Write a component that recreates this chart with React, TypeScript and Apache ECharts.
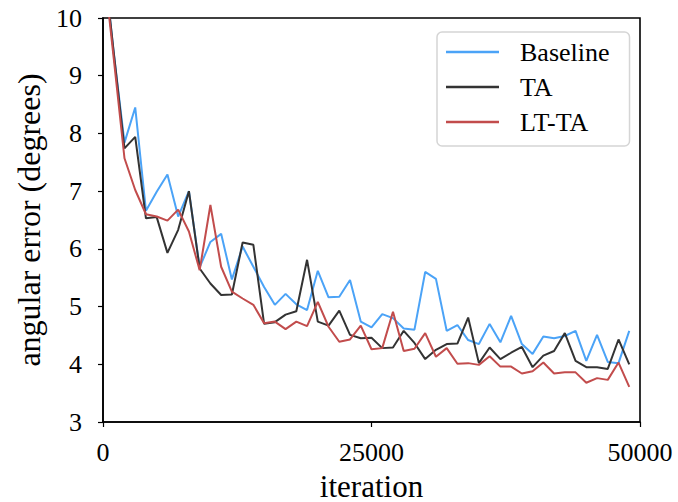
import React, { useEffect, useRef } from "react";
import * as echarts from "echarts";

const iterations = [
  0, 1000, 2000, 3000, 4000, 5000, 6000, 7000, 8000, 9000,
  10000, 11000, 12000, 13000, 14000, 15000, 16000, 17000, 18000, 19000,
  20000, 21000, 22000, 23000, 24000, 25000, 26000, 27000, 28000, 29000,
  30000, 31000, 32000, 33000, 34000, 35000, 36000, 37000, 38000, 39000,
  40000, 41000, 42000, 43000, 44000, 45000, 46000, 47000, 48000, 49000,
];

const baseline = [
  11.1, 9.4, 7.84, 8.45, 6.66, 6.99, 7.29, 6.56, 7.0, 5.68,
  6.12, 6.26, 5.47, 6.04, 5.69, 5.34, 5.03, 5.22, 5.04, 4.94,
  5.62, 5.16, 5.17, 5.46, 4.74, 4.64, 4.87, 4.8, 4.62, 4.6,
  5.6, 5.48, 4.58, 4.68, 4.42, 4.35, 4.7, 4.38, 4.84, 4.35,
  4.18, 4.48, 4.45, 4.49, 4.58, 4.06, 4.51, 4.04, 4.02, 4.58,
];

const ta = [
  11.1, 9.4, 7.74, 7.94, 6.53, 6.55, 5.93, 6.33, 7.0, 5.66,
  5.4, 5.2, 5.21, 6.11, 6.07, 4.7, 4.73, 4.86, 4.92, 5.81,
  4.74, 4.67, 4.93, 4.51, 4.45, 4.46, 4.28, 4.29, 4.58, 4.37,
  4.09, 4.25, 4.35, 4.36, 4.81, 4.02, 4.29, 4.09, 4.2, 4.3,
  3.95, 4.15, 4.23, 4.54, 4.06, 3.95, 3.95, 3.92, 4.43, 4.0,
];

const ltta = [
  11.0, 9.3, 7.57, 7.02, 6.6, 6.56, 6.49, 6.68, 6.3, 5.63,
  6.76, 5.69, 5.26, 5.14, 5.03, 4.71, 4.74, 4.61, 4.74, 4.66,
  5.08, 4.65, 4.39, 4.43, 4.67, 4.26, 4.28, 4.91, 4.23, 4.27,
  4.54, 4.13, 4.28, 4.01, 4.02, 3.99, 4.14, 3.96, 3.96, 3.84,
  3.88, 4.03, 3.84, 3.86, 3.86, 3.68, 3.76, 3.73, 4.03, 3.61,
];

const seriesNames = ["Baseline", "TA", "LT-TA"];
const seriesColors = ["#4ba3f7", "#333333", "#c24c4c"];

const FONT = "'Liberation Serif', 'DejaVu Serif', serif";

export default function App() {
  const ref = useRef<HTMLDivElement>(null);

  useEffect(() => {
    if (!ref.current) return;
    const chart = echarts.init(ref.current, undefined, { renderer: "svg" });
    const datasets = [baseline, ta, ltta];
    chart.setOption({
      animation: false,
      backgroundColor: "#ffffff",
      grid: {
        left: 103,
        top: 18,
        right: 38,
        bottom: 80,
        containLabel: false,
        outerBoundsMode: "none",
        show: true,
        borderColor: "#000",
        borderWidth: 1.6,
        backgroundColor: "transparent",
      },
      legend: {
        orient: "vertical",
        left: 437,
        top: 32,
        data: seriesNames,
        icon: "rect",
        itemWidth: 53,
        itemHeight: 2.5,
        itemGap: 9,
        padding: [7, 20, 11, 9],
        backgroundColor: "#ffffff",
        borderColor: "#d5d5d5",
        borderWidth: 1.5,
        borderRadius: 5,
        textStyle: {
          fontFamily: FONT,
          fontSize: 26,
          lineHeight: 26,
          color: "#000",
          padding: [0, 0, 0, 16],
        },
      },
      xAxis: {
        type: "value",
        min: 0,
        max: 50000,
        interval: 25000,
        name: "iteration",
        nameLocation: "middle",
        nameGap: 50,
        nameTextStyle: { fontFamily: FONT, fontSize: 31, lineHeight: 28, color: "#000" },
        axisLine: { show: true, onZero: false, lineStyle: { color: "#000", width: 1.6 } },
        axisTick: { show: true, inside: false, length: 5, lineStyle: { color: "#000", width: 1.2 } },
        axisLabel: {
          fontFamily: FONT,
          fontSize: 26,
          color: "#000",
          margin: 17,
          formatter: (v: number) => String(v),
        },
        splitLine: { show: false },
      },
      yAxis: {
        type: "value",
        min: 3,
        max: 10,
        interval: 1,
        name: "angular error (degrees)",
        nameLocation: "middle",
        nameGap: 52,
        nameTextStyle: { fontFamily: FONT, fontSize: 32, color: "#000" },
        axisLine: { show: true, onZero: false, lineStyle: { color: "#000", width: 1.6 } },
        axisTick: { show: true, inside: false, length: 5, lineStyle: { color: "#000", width: 1.2 } },
        axisLabel: { fontFamily: FONT, fontSize: 26, color: "#000", margin: 21 },
        splitLine: { show: false },
      },
      series: seriesNames.map((name, i) => ({
        name,
        type: "line",
        showSymbol: false,
        symbol: "none",
        clip: true,
        color: seriesColors[i],
        lineStyle: { color: seriesColors[i], width: 2 },
        data: iterations.map((it, j) => [it, datasets[i][j]]),
      })),
    });
    return () => chart.dispose();
  }, []);

  return (
    <div
      ref={ref}
      style={{ position: "fixed", left: 0, top: 0, width: 678, height: 502, background: "#fff" }}
    />
  );
}
